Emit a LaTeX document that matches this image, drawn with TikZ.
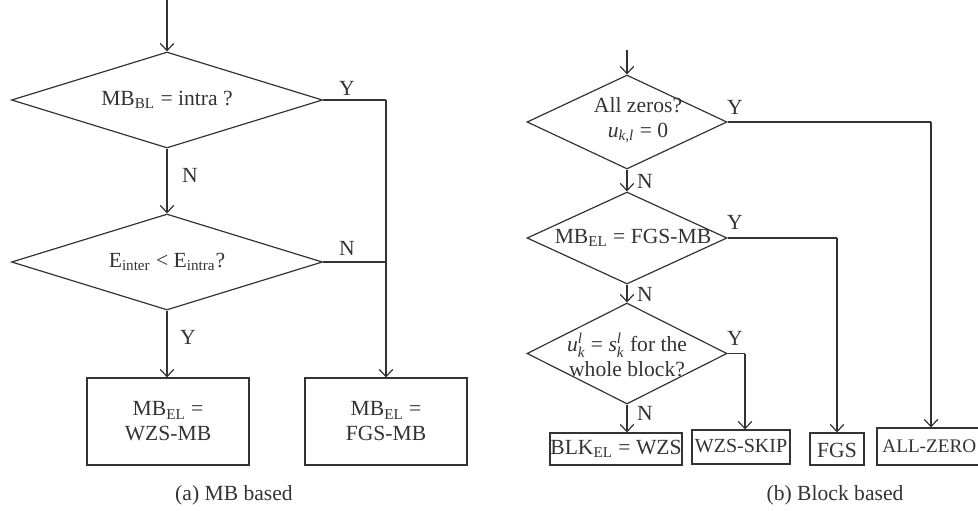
\documentclass[tikz,border=0pt]{standalone}
\usepackage{amsmath}
\usepackage{fontspec}
\setmainfont{Liberation Serif}
\usetikzlibrary{shapes.geometric,arrows.meta}
\definecolor{ink}{HTML}{333333}
\tikzset{
  every node/.style={font=\fontsize{10.8}{12.5}\selectfont, text=ink},
  dia/.style={draw=ink, line width=0.6pt, shape=diamond, inner sep=0pt, aspect=2},
  box/.style={draw=ink, line width=0.6pt, inner sep=0pt},
  lbl/.style={inner sep=0pt},
  flow/.style={draw=ink, line width=0.6pt, -{Straight Barb[length=3.6pt,width=6.8pt,line width=0.6pt]}},
  wire/.style={draw=ink, line width=0.6pt},
}
\newcommand{\sbs}[1]{\textsubscript{#1}}
\begin{document}
\begin{tikzpicture}[x=0.5pt,y=-0.5pt]
\useasboundingbox (0,0) rectangle (978,510);
% ---------- (a) MB based ----------
\coordinate (sa) at (167,0);
\node[dia, minimum width=155.5pt, minimum height=48pt] (d1) at (167,100) {};
\node[lbl] at (167,100) {MB\sbs{BL} = intra ?};
\node[dia, minimum width=155.5pt, minimum height=48pt] (d2) at (167,262) {};
\node[lbl] at (167,262) {E\sbs{inter} < E\sbs{intra}?};
\node[box, minimum width=81pt, minimum height=43.5pt] (b1) at (168,421.5) {};
\node[lbl, align=center] at (168,421.5) {MB\sbs{EL} =\\WZS-MB};
\node[box, minimum width=81pt, minimum height=43.5pt] (b2) at (386,421.5) {};
\node[lbl, align=center] at (386,421.5) {MB\sbs{EL} =\\FGS-MB};
\coordinate (c1) at (386,100);
\coordinate (c2) at (386,262);
\draw[flow] (sa) -- (d1.north);
\draw[flow] (d1.south) -- (d2.north);
\draw[flow] (d2.south) -- (b1.north -| d2.south);
\draw[wire] (d1.east) -- (c1);
\draw[wire] (d2.east) -- (c2);
\draw[flow] (c1) -- (b2.north);
\node[lbl] at (347,88) {Y};
\node[lbl] at (190,175) {N};
\node[lbl] at (347,248) {N};
\node[lbl] at (188,337) {Y};
\node[lbl] at (234,495) {(a) MB based};
% ---------- (b) Block based ----------
\coordinate (sb) at (627,50);
\node[dia, minimum width=100pt, minimum height=47pt] (da) at (627,122) {};
\node[lbl, align=center] at (638,120) {All zeros?\\$\textit{u}_{\textit{k,l}}$ = 0};
\node[dia, minimum width=100pt, minimum height=46pt] (db) at (627,238) {};
\node[lbl] at (633,238) {MB\sbs{EL} = FGS-MB};
\node[dia, minimum width=100pt, minimum height=50.5pt] (dc) at (627,353.5) {};
\node[lbl, align=center] at (627,355) {$\textit{u}^{\textit{l}}_{\textit{k}}$ = $\textit{s}^{\textit{l}}_{\textit{k}}$ for the\\[0pt]whole block?};
\node[box, minimum width=66pt, minimum height=16pt] (blk) at (616,449) {};
\node[lbl] at (616,449) {BLK\sbs{EL} = WZS};
\node[box, minimum width=49pt, minimum height=17pt] (skip) at (741,447) {};
\node[lbl, font=\fontsize{10}{12}\selectfont] at (741,446) {WZS-SKIP};
\node[box, minimum width=27pt, minimum height=16pt] (fgs) at (837,449) {};
\node[lbl] at (837,450) {FGS};
\node[box, minimum width=54pt, minimum height=18.5pt] (allz) at (931,446.5) {};
\node[lbl, anchor=west, font=\fontsize{9.6}{11}\selectfont] at (882,446.5) {ALL-ZERO};
\coordinate (ca) at (931,122);
\coordinate (cb) at (837,238);
\coordinate (cc) at (745,353.5);
\draw[flow] (sb) -- (da.north);
\draw[flow] (da.south) -- (db.north);
\draw[flow] (db.south) -- (dc.north);
\draw[flow] (dc.south) -- (blk.north -| dc.south);
\draw[wire] (da.east) -- (ca);
\draw[flow] (ca) -- (allz.north);
\draw[wire] (db.east) -- (cb);
\draw[flow] (cb) -- (fgs.north -| cb);
\draw[wire] (dc.east) -- (cc);
\draw[flow] (cc) -- (skip.north -| cc);
\node[lbl] at (735,107) {Y};
\node[lbl] at (645,181) {N};
\node[lbl] at (735,222) {Y};
\node[lbl] at (645,294) {N};
\node[lbl] at (735,338) {Y};
\node[lbl] at (645,413) {N};
\node[lbl] at (835,495) {(b) Block based};
\end{tikzpicture}
\end{document}
